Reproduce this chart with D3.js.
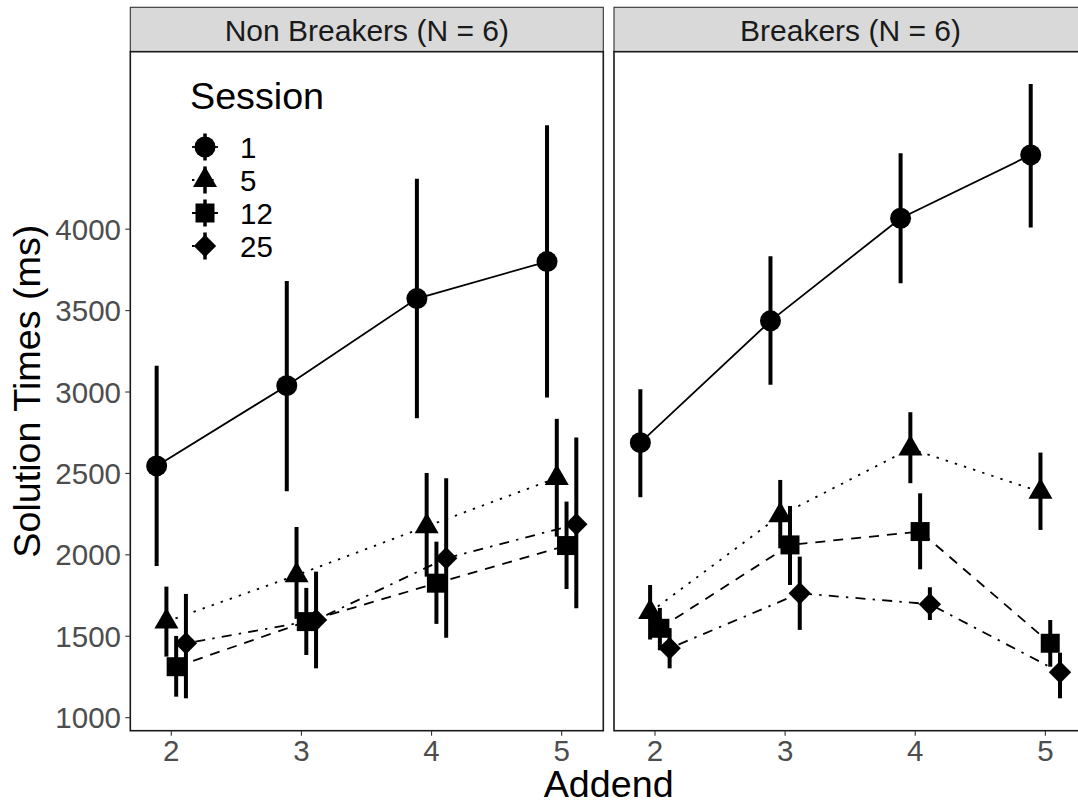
<!DOCTYPE html>
<html><head><meta charset="utf-8">
<script src="https://cdn.jsdelivr.net/npm/d3@7"></script>
<style>
html,body{margin:0;padding:0;background:#fff;overflow:hidden;}
svg{display:block;font-family:"Liberation Sans",Arial,Helvetica,sans-serif;}
</style></head><body>
<svg id="chart" width="1078" height="805"></svg>
<script>
// ---- data ----
const addends = [2, 3, 4, 5];
const sessions = ["1", "5", "12", "25"];
const groups = ["Non Breakers (N = 6)", "Breakers (N = 6)"];
const yTicks = [1000, 1500, 2000, 2500, 3000, 3500, 4000];

// Non Breakers: mean solution time and interval (low / high) per addend
const nbMean1 = [2546, 3039, 3574, 3801];
const nbLow1  = [1932, 2390, 2839, 2966];
const nbHigh1 = [3162, 3682, 4309, 4639];
const nbMean5 = [1590, 1875, 2175, 2472];
const nbLow5  = [1375, 1607, 1866, 2112];
const nbHigh5 = [1805, 2171, 2503, 2835];
const nbMean12 = [1313, 1590, 1826, 2057];
const nbLow12  = [1129, 1385, 1576, 1790];
const nbHigh12 = [1502, 1797, 2081, 2327];
const nbMean25 = [1457, 1600, 1979, 2188];
const nbLow25  = [1119, 1303, 1491, 1672];
const nbHigh25 = [1760, 1897, 2470, 2720];

// Breakers
const bMean1 = [2689, 3437, 4067, 4456];
const bLow1  = [2354, 3044, 3668, 4010];
const bHigh1 = [3017, 3834, 4467, 4892];
const bMean5 = [1648, 2242, 2652, 2387];
const bLow5  = [1480, 2040, 2440, 2153];
const bHigh5 = [1815, 2460, 2876, 2628];
const bMean12 = [1549, 2061, 2143, 1457];
const bLow12  = [1414, 1815, 1911, 1313];
const bHigh12 = [1674, 2300, 2378, 1600];
const bMean25 = [1426, 1764, 1697, 1279];
const bLow25  = [1303, 1539, 1600, 1119];
const bHigh25 = [1550, 1989, 1801, 1399];

const panelData = [
  { mean: [nbMean1, nbMean5, nbMean12, nbMean25],
    low:  [nbLow1, nbLow5, nbLow12, nbLow25],
    high: [nbHigh1, nbHigh5, nbHigh12, nbHigh25] },
  { mean: [bMean1, bMean5, bMean12, bMean25],
    low:  [bLow1, bLow5, bLow12, bLow25],
    high: [bHigh1, bHigh5, bHigh12, bHigh25] }
];

// ---- layout ----
const panelTop = 51.7, panelBottom = 730.7;
const panelLefts = [130.3, 614];
const panelW = 473;
const stripTop = 7.3;
const dodgeW = 0.3;
const nS = sessions.length;
const dodge = i => (i - (nS - 1) / 2) * dodgeW / nS;

const y = d3.scaleLinear().domain([920, 5090]).range([panelBottom, panelTop]);

const linetypes = [null, "2.4,7.2", "10,8", "2.4,7.2,10,7.2"];

// point shapes: circle, filled triangle, square, diamond
function shapePath(i) {
  if (i === 0) return d3.symbol(d3.symbolCircle, Math.PI * 10.5 * 10.5)();
  if (i === 1) return d3.symbol(d3.symbolTriangle, 24 * 24 * Math.sqrt(3) / 4)();
  if (i === 2) return d3.symbol(d3.symbolSquare, 19 * 19)();
  const r = 11.2;
  return `M0,${-r}L${r},0L0,${r}L${-r},0Z`;
}

const svg = d3.select("#chart");
svg.append("rect").attr("width", 1078).attr("height", 805).attr("fill", "#fff");

groups.forEach((g, p) => {
  const x0 = panelLefts[p];
  const x = d3.scaleLinear().domain([1.685, 5.32]).range([x0, x0 + panelW]);
  const gP = svg.append("g");

  // strip
  gP.append("rect").attr("x", x0).attr("y", stripTop)
    .attr("width", panelW).attr("height", panelTop - stripTop)
    .attr("fill", "#D9D9D9").attr("stroke", "#333").attr("stroke-width", 1.1);
  gP.append("text").attr("x", x0 + panelW / 2).attr("y", 40.5)
    .attr("text-anchor", "middle").attr("font-size", 30).attr("fill", "#1A1A1A")
    .text(g);

  // panel background
  gP.append("rect").attr("x", x0).attr("y", panelTop)
    .attr("width", panelW).attr("height", panelBottom - panelTop)
    .attr("fill", "#fff");

  const d = panelData[p];

  // connecting lines
  sessions.forEach((s, i) => {
    const line = d3.line()
      .x((a, k) => x(a + dodge(i)))
      .y((a, k) => y(d.mean[i][k]));
    gP.append("path").datum(addends)
      .attr("d", line).attr("fill", "none").attr("stroke", "#000")
      .attr("stroke-width", 1.8)
      .attr("stroke-dasharray", linetypes[i]);
  });

  // point ranges
  sessions.forEach((s, i) => {
    const gs = gP.append("g");
    gs.selectAll("line").data(addends).join("line")
      .attr("x1", (a) => x(a + dodge(i))).attr("x2", (a) => x(a + dodge(i)))
      .attr("y1", (a, k) => y(d.low[i][k])).attr("y2", (a, k) => y(d.high[i][k]))
      .attr("stroke", "#000").attr("stroke-width", 4);
    gs.selectAll("path").data(addends).join("path")
      .attr("d", shapePath(i))
      .attr("transform", (a, k) => `translate(${x(a + dodge(i))},${y(d.mean[i][k])})`)
      .attr("fill", "#000");
  });

  // panel border
  gP.append("rect").attr("x", x0).attr("y", panelTop)
    .attr("width", panelW).attr("height", panelBottom - panelTop)
    .attr("fill", "none").attr("stroke", "#1a1a1a").attr("stroke-width", 1.6);

  // x axis
  const xa = gP.append("g");
  addends.forEach(a => {
    xa.append("line").attr("x1", x(a)).attr("x2", x(a))
      .attr("y1", panelBottom).attr("y2", panelBottom + 5)
      .attr("stroke", "#333").attr("stroke-width", 1.1);
    xa.append("text").attr("x", x(a)).attr("y", 761)
      .attr("text-anchor", "middle").attr("font-size", 29.5).attr("fill", "#4D4D4D")
      .text(a);
  });
});

// y axis (left panel only)
const ya = svg.append("g");
yTicks.forEach(t => {
  ya.append("line").attr("x1", panelLefts[0] - 5).attr("x2", panelLefts[0])
    .attr("y1", y(t)).attr("y2", y(t))
    .attr("stroke", "#333").attr("stroke-width", 1.1);
  ya.append("text").attr("x", 121).attr("y", y(t) + 10.5)
    .attr("text-anchor", "end").attr("font-size", 29.5).attr("fill", "#4D4D4D")
    .text(t);
});

// axis titles
svg.append("text").attr("x", 608.7).attr("y", 797)
  .attr("text-anchor", "middle").attr("font-size", 37.7).attr("fill", "#000")
  .text("Addend");
svg.append("text")
  .attr("transform", `translate(40,${(panelTop + panelBottom) / 2}) rotate(-90)`)
  .attr("text-anchor", "middle").attr("font-size", 37.7).attr("fill", "#000")
  .text("Solution Times (ms)");

// legend
const lg = svg.append("g");
lg.append("text").attr("x", 190).attr("y", 109)
  .attr("font-size", 37.7).attr("fill", "#000").text("Session");
const keyY = [147, 180, 213, 246];
sessions.forEach((s, i) => {
  const cy = keyY[i], cx = 205;
  lg.append("line").attr("x1", cx - 13).attr("x2", cx + 13)
    .attr("y1", cy).attr("y2", cy)
    .attr("stroke", "#000").attr("stroke-width", 1.8)
    .attr("stroke-dasharray", linetypes[i]);
  lg.append("line").attr("x1", cx).attr("x2", cx)
    .attr("y1", cy - 13.5).attr("y2", cy + 13.5)
    .attr("stroke", "#000").attr("stroke-width", 3.5);
  lg.append("path").attr("d", shapePath(i))
    .attr("transform", `translate(${cx},${cy})`).attr("fill", "#000");
  lg.append("text").attr("x", 240).attr("y", cy + 10.6)
    .attr("font-size", 29.5).attr("fill", "#000").text(s);
});
</script>
</body></html>
